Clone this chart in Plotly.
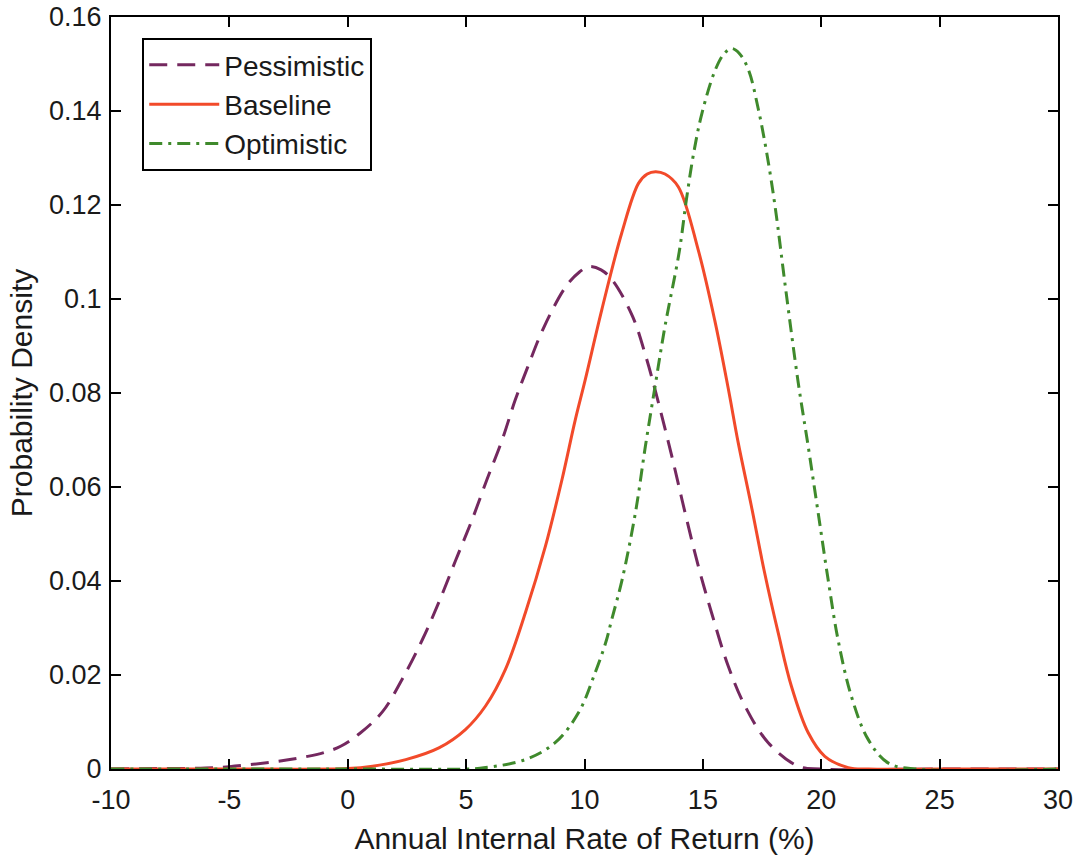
import plotly.graph_objects as go

# ---- data ----
pess_x = [-10, -8, -6, -5, -4, -3, -2, -1, -0.28, 0.49, 1.47, 2.31, 3.15, 3.85, 4.55,
          5.25, 5.88, 6.52, 7.08, 7.6, 8.24, 9.22, 9.8, 10.19, 10.7, 11.18, 12.03, 12.59, 12.98,
          13.69, 14.25, 14.81, 15.37, 16.07, 16.78, 17.76, 19.02, 20, 25, 30]
pess_y = [0, 0.0001, 0.0002, 0.0005, 0.001, 0.0016, 0.0024, 0.0035, 0.0049, 0.0075,
          0.0122, 0.0192, 0.0275, 0.0355, 0.0443, 0.053, 0.0616, 0.070, 0.0786, 0.0855,
          0.0935, 0.1027, 0.1058, 0.1069, 0.1062, 0.104, 0.0963, 0.0878, 0.0807, 0.0665, 0.0545, 0.0431,
          0.0332, 0.0219, 0.0134, 0.0056, 0.0006, 0, 0, 0]

base_x = [-10, -5, 0, 1.05, 2.45, 3.85, 4.97, 5.82, 6.66, 7.5, 8.35, 9.05, 9.61, 10.03,
          10.73, 11.57, 12.28, 12.65, 13.0, 13.4, 13.96, 14.8, 15.5, 16.07, 16.49, 17.05, 17.61,
          18.18, 18.74, 19.45, 20.15, 21.14, 22, 25, 30]
base_y = [0, 0, 0.0001, 0.0006, 0.002, 0.0045, 0.0084, 0.0134, 0.0212, 0.0332, 0.0474,
          0.0616, 0.0743, 0.0828, 0.0977, 0.114, 0.1246, 0.1266, 0.1271, 0.1266, 0.1239, 0.1105, 0.0955,
          0.081, 0.0695, 0.0559, 0.0417, 0.029, 0.0176, 0.0077, 0.0027, 0.0003, 0, 0, 0]

opt_x = [-10, 0, 5, 5.82, 7.5, 8.76, 9.75, 10.45, 10.89, 11.15, 11.59, 12.15, 12.57,
         12.98, 13.4, 14.0, 14.3, 14.61, 14.96, 15.52, 15.9, 16.22, 16.55, 16.93, 17.35, 17.7, 18.05,
         18.5, 19.03, 19.45, 19.87, 20.29, 20.71, 21.27, 21.98, 22.82, 24, 30]
opt_y = [0, 0, 0, 0.0003, 0.002, 0.0056, 0.012, 0.0205, 0.0268, 0.0318, 0.0403, 0.0545,
         0.0686, 0.0814, 0.0942, 0.110, 0.121, 0.131, 0.1395, 0.1487, 0.1522, 0.1533, 0.1522, 0.1487,
         0.1402, 0.131, 0.1197, 0.102, 0.0821, 0.0686, 0.0545, 0.0403, 0.0275, 0.0155,
         0.0063, 0.0013, 0, 0]

x_ticks = [-10, -5, 0, 5, 10, 15, 20, 25, 30]
x_tick_text = ["-10", "-5", "0", "5", "10", "15", "20", "25", "30"]
y_ticks = [0, 0.02, 0.04, 0.06, 0.08, 0.1, 0.12, 0.14, 0.16]
y_tick_text = ["0", "0.02", "0.04", "0.06", "0.08", "0.1", "0.12", "0.14", "0.16"]

FONT = "Liberation Sans"
TXT = "#1a1a1a"

fig = go.Figure()
fig.add_trace(go.Scatter(x=pess_x, y=pess_y, mode="lines", name="Pessimistic",
                         line=dict(color="#74285f", width=3, dash="18px,10px", shape="spline", smoothing=1.0)))
fig.add_trace(go.Scatter(x=base_x, y=base_y, mode="lines", name="Baseline",
                         line=dict(color="#f24a2a", width=3, shape="spline", smoothing=1.0)))
fig.add_trace(go.Scatter(x=opt_x, y=opt_y, mode="lines", name="Optimistic",
                         line=dict(color="#3f8a2c", width=3, dash="13px,6px,3px,6px", shape="spline", smoothing=1.0)))

axis_common = dict(showline=True, linecolor="black", linewidth=2, mirror="ticks",
                   ticks="inside", ticklen=10, tickwidth=2, tickcolor="black",
                   showgrid=False, zeroline=False, automargin=False,
                   ticklabeloverflow="allow",
                   tickfont=dict(family=FONT, size=27, color=TXT))

fig.update_layout(
    width=1080, height=859,
    paper_bgcolor="white", plot_bgcolor="white",
    margin=dict(l=111, r=22, t=17, b=90),
    xaxis=dict(range=[-10, 30], tickvals=x_ticks, ticktext=x_tick_text, ticklabelstandoff=6,
               title=dict(text="Annual Internal Rate of Return (%)", standoff=14,
                          font=dict(family=FONT, size=30, color=TXT)),
               **axis_common),
    yaxis=dict(range=[0, 0.16], tickvals=y_ticks, ticktext=y_tick_text, ticklabelstandoff=2,
               title=dict(text="Probability Density", standoff=8,
                          font=dict(family=FONT, size=30, color=TXT)),
               **axis_common),
    legend=dict(x=0.033, y=0.972, xanchor="left", yanchor="top",
                bgcolor="white", bordercolor="black", borderwidth=2,
                font=dict(family=FONT, size=28, color=TXT),
                itemwidth=70, tracegroupgap=0),
    showlegend=True,
)

fig.write_html("out.html", config={"displayModeBar": False},
               post_script="document.body.style.margin='0';")
